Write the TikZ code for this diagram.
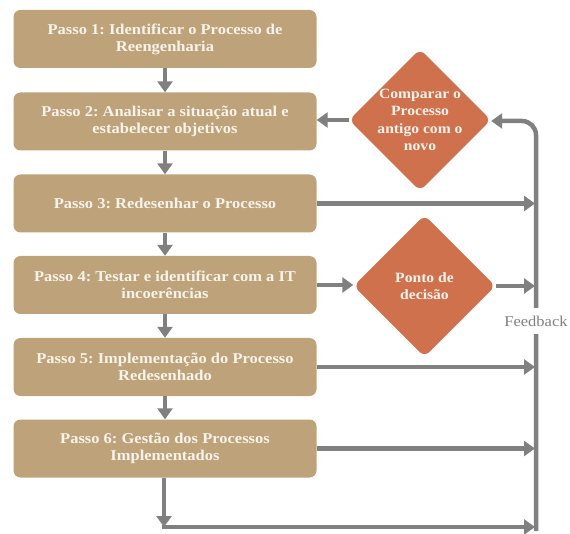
\documentclass[tikz,border=0pt]{standalone}
\usepackage{fontspec}
\setmainfont{Liberation Serif}[FakeStretch=1.1]
\usetikzlibrary{arrows.meta,shapes.geometric}
\definecolor{stepfill}{HTML}{BEA27A}
\definecolor{decfill}{HTML}{D0714E}
\definecolor{flowgray}{HTML}{808080}
\definecolor{labeltext}{HTML}{F8F4EC}
\frenchspacing
\begin{document}
\begin{tikzpicture}[x=1pt,y=-1pt,
  stepbox/.style={fill=stepfill, rounded corners=7pt, minimum width=303pt,
    minimum height=58pt, inner sep=0pt, text=labeltext, align=center,
    font=\bfseries\fontsize{15}{17}\selectfont},
  decision/.style={diamond, aspect=1, fill=decfill, rounded corners=7pt,
    minimum width=142pt, minimum height=142pt, inner sep=0pt},
  dectext/.style={inner sep=0pt, text=labeltext, align=center,
    font=\bfseries\fontsize{14.2}{17.3}\selectfont},
  flow/.style={draw=flowgray, line width=4.5pt, -{Triangle[width=15pt,length=11pt]}},
  fblabel/.style={fill=white, text=flowgray, inner xsep=1pt, inner ysep=8pt,
    font=\fontsize{15}{17}\selectfont}]
\useasboundingbox (0,0) rectangle (570,534);

% process steps
\node[stepbox] (s1) at (165,39)    {Passo 1: Identificar o Processo de\\Reengenharia};
\node[stepbox] (s2) at (165,121.5) {Passo 2: Analisar a situação atual e\\estabelecer objetivos};
\node[stepbox] (s3) at (165,203.5) {Passo 3: Redesenhar o Processo};
\node[stepbox] (s4) at (165,285)   {Passo 4: Testar e identificar com a IT\\incoerências};
\node[stepbox] (s5) at (165,367)   {Passo 5: Implementação do Processo\\Redesenhado};
\node[stepbox] (s6) at (165,448.5) {Passo 6: Gestão dos Processos\\Implementados};

% decisions (fixed-size diamonds, text set on top)
\node[decision] (d1) at (420,120) {};
\node[dectext] (d1t) at (d1) {Comparar o\\Processo\\antigo com o\\novo};
\node[decision] (d2) at (424.5,286) {};
\node[dectext] (d2t) at (d2) {Ponto de\\decisão};

% feedback rail
\coordinate (fbtop) at (536,121);
\coordinate (fbbot) at (536,531);
\coordinate (bend) at (164,527);
\coordinate (bendl) at (162,527);

% main sequence
\draw[flow] (s1) -- (s2);
\draw[flow] (s2) -- (s3);
\draw[flow] (s3) -- (s4);
\draw[flow] (s4) -- (s5);
\draw[flow] (s5) -- (s6);
\draw[flow] (s6.south -| bend) -- (bend);

% feedback line back to the comparison
\draw[flow, rounded corners=14pt] (fbbot) -- (fbtop) -- (fbtop -| d1.east);
\draw[flow] (d1.west) -- (d1.west -| s2.east);
\draw[flow] (bendl) -- (bendl -| 535,0);

% branches into the rail
\draw[flow] (s3) -- (s3 -| 535,0);
\draw[flow] (s4.east) -- (s4.east -| d2.west);
\draw[flow] (d2) -- (d2 -| 535,0);
\draw[flow] (s5) -- (s5 -| 535,0);
\draw[flow] (s6) -- (s6 -| 535,0);

\node[fblabel] (fb) at (536,321) {Feedback};
\end{tikzpicture}
\end{document}
